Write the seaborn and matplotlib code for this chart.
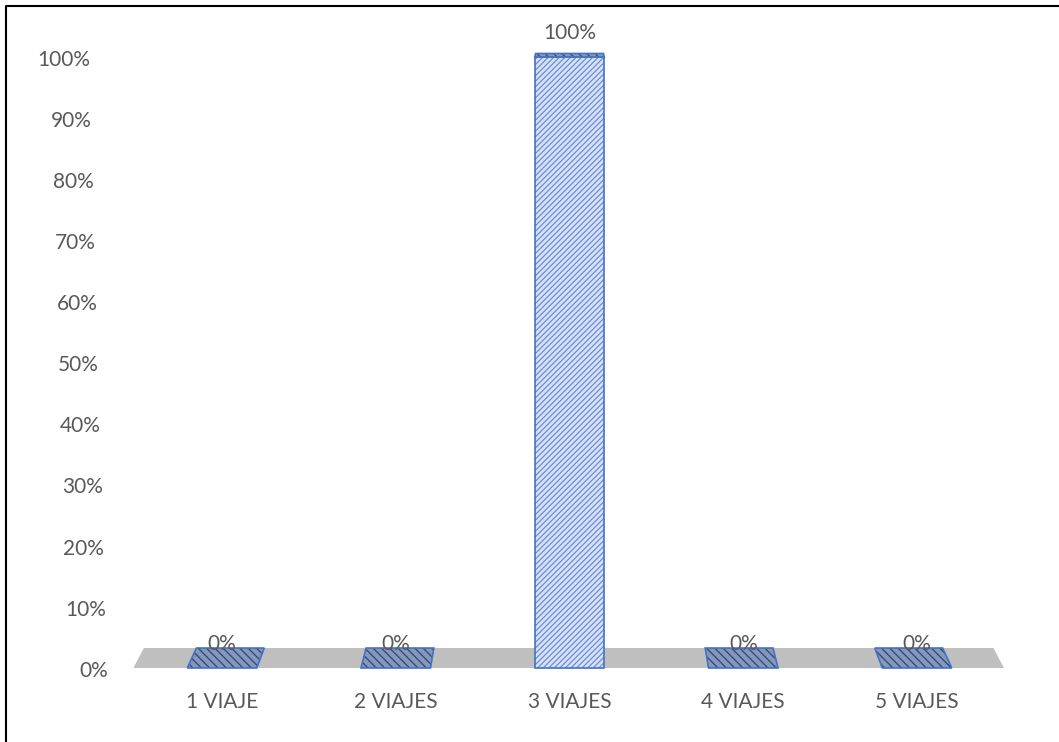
import matplotlib
matplotlib.use("Agg")
import matplotlib.pyplot as plt
import pandas as pd
import seaborn as sns
from matplotlib.patches import Polygon, Rectangle
from matplotlib.lines import Line2D

# --- data -------------------------------------------------------------
categories = ["1 VIAJE", "2 VIAJES", "3 VIAJES", "4 VIAJES", "5 VIAJES"]
shares = [0.0, 0.0, 1.0, 0.0, 0.0]
y_ticks = [0.0, 0.1, 0.2, 0.3, 0.4, 0.5, 0.6, 0.7, 0.8, 0.9, 1.0]
y_tick_labels = ["0%", "10%", "20%", "30%", "40%", "50%", "60%", "70%", "80%", "90%", "100%"]
bar_labels = [f"{round(v * 100):d}%" for v in shares]

# --- style ------------------------------------------------------------
TEXT = "#595959"
EDGE = "#4472c4"
FRONT_FILL = "#d7e2f7"
FRONT_HATCH = "#6a8ddb"
TOP_FILL = "#8498bd"
TOP_HATCH = "#34466e"
FLOOR = "#bfbfbf"
FS = 15

sns.set_theme(style="white")
plt.rcParams["font.family"] = ["Lato", "DejaVu Sans"]
plt.rcParams["hatch.linewidth"] = 0.9

fig = plt.figure(figsize=(10.59, 7.42), dpi=100)
ax = fig.add_axes([0.1112, 0.0668, 0.8532, 0.9223])

df = pd.DataFrame({"viajes": categories, "share": shares})
sns.barplot(data=df, x="viajes", y="share", width=0.4, color=FRONT_FILL,
            saturation=1, linewidth=0, edgecolor=FRONT_HATCH, hatch="//////",
            ax=ax, zorder=3)

n = len(categories)
mid = (n - 1) / 2.0


def depth(y):
    """Vertical perspective offset of the back edge at height y."""
    return 0.0327 - 0.027 * y


def back_x(x):
    """Horizontal perspective shrink toward the middle of the chart."""
    return mid + (x - mid) * 0.976


# floor of the 3D plot
fl, fr = -0.51, n - 0.5
ax.add_patch(Polygon([(fl, 0), (fr, 0), (back_x(fr), depth(0)), (back_x(fl), depth(0))],
                     closed=True, facecolor=FLOOR, edgecolor="none", zorder=1, clip_on=False))

for p in list(ax.patches):
    if not isinstance(p, Rectangle):
        continue
    x0, w, h = p.get_x(), p.get_width(), p.get_height()
    x1 = x0 + w
    if h > 0:
        ax.add_patch(Rectangle((x0, 0), w, h, fill=False, edgecolor=EDGE,
                               linewidth=1.2, zorder=4))
    d = depth(h)
    top = [(x0, h), (x1, h), (back_x(x1), h + d), (back_x(x0), h + d)]
    ax.add_patch(Polygon(top, closed=True, facecolor=TOP_FILL, edgecolor=TOP_HATCH,
                         hatch="\\\\\\\\", linewidth=0, zorder=5, clip_on=False))
    ax.add_patch(Polygon(top, closed=True, fill=False, edgecolor=EDGE,
                         linewidth=1.2, zorder=6, clip_on=False))

for i, (v, lab) in enumerate(zip(shares, bar_labels)):
    ax.annotate(lab, (i, v), xytext=(0, 17), textcoords="offset points",
                ha="center", va="center", fontsize=FS, color=TEXT, zorder=7)

ax.set_xlim(-0.6, 4.6)
ax.set_ylim(-0.04, 1.08)

# value axis sits on the slanted back wall: labels drift left as they rise
ax.set_yticks(y_ticks, [])
for t, lab in zip(y_ticks, y_tick_labels):
    ax.annotate(lab, (0, t), xycoords=ax.get_yaxis_transform(),
                xytext=(-(7.2 + 12.5 * t), -2.0), textcoords="offset points",
                ha="right", va="center", fontsize=FS, color=TEXT, annotation_clip=False)

ax.set_xlabel("")
ax.set_ylabel("")
ax.tick_params(axis="y", length=0)
ax.tick_params(axis="x", length=0, pad=0, labelcolor=TEXT, labelsize=FS)
for s in ax.spines.values():
    s.set_visible(False)
ax.set_facecolor("white")

# chart frame
fig.add_artist(Line2D([6 / 1059, 6 / 1059, 1.0], [0.0, 1 - 6 / 742, 1 - 6 / 742],
                      transform=fig.transFigure, color="black", linewidth=1.5))

fig.savefig("out.png", dpi=100, facecolor="white")
